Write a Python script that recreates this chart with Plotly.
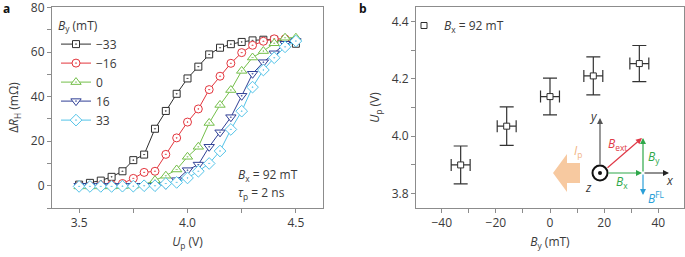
import plotly.graph_objects as go

# ---------------- data ----------------
up_a = [3.50, 3.55, 3.60, 3.65, 3.70, 3.75, 3.80, 3.85, 3.90, 3.95, 4.00,
        4.05, 4.10, 4.15, 4.20, 4.25, 4.30, 4.35, 4.40, 4.45, 4.50]
by_labels = ["\u221233", "\u221216", "0", "16", "33"]
dR_m33 = [0.5, 1.3, 2.3, 4.0, 6.5, 11.5, 14.0, 25.6, 33.6, 41.3, 48.2,
          53.5, 59.0, 62.0, 63.6, 64.6, 65.3, 65.6, 65.6, 65.0, 63.8]
dR_m16 = [0.0, 0.0, 0.2, 0.5, 1.0, 3.3, 6.0, 6.5, 14.1, 21.5, 28.6,
          34.5, 43.2, 49.2, 55.0, 59.8, 63.1, 64.9, 66.0, 66.0, 65.0]
dR_0 = [-0.3, -0.3, -0.3, -0.3, -0.2, 0.0, 0.5, 2.5, 4.5, 7.3, 13.0,
        17.5, 28.2, 36.3, 43.0, 51.6, 57.6, 60.5, 64.0, 66.5, 66.5]
dR_16 = [0.0, 0.0, 0.0, 0.0, 0.0, 0.0, 0.0, 0.0, 0.5, 2.5, 7.0,
         9.5, 17.5, 24.0, 30.8, 40.4, 50.3, 55.5, 59.5, 63.8, 65.0]
dR_33 = [-0.3, -0.3, -0.3, -0.3, -0.2, -0.2, 0.0, 0.0, 1.0, 1.5, 3.5,
         6.5, 10.0, 15.6, 25.3, 33.5, 44.3, 52.0, 57.5, 62.4, 65.0]

by_b = [-33, -16, 0, 16, 33]
up_b = [3.900, 4.035, 4.138, 4.210, 4.253]
up_b_err = [0.066, 0.067, 0.064, 0.066, 0.063]
by_b_err = [3.5, 3.5, 3.5, 3.5, 3.5]

# ---------------- style ----------------
W, H = 685, 257
FONT = "Open Sans"
TXT = "#3a3a3a"
AX = "#8c8c8c"
FS = 12
colors = ["#2e2e2e", "#e3343c", "#74bf4a", "#2f3f95", "#52c3e8"]
symbols = ["square-dot", "circle-dot", "triangle-up-dot", "triangle-down-dot", "diamond-dot"]
sizes = [7, 8, 9, 9, 9]
series = [dR_m33, dR_m16, dR_0, dR_16, dR_33]


def px(x):
    return x / W


def py(y):
    return 1 - y / H


fig = go.Figure()

for name, ys, c, s, sz in zip(by_labels, series, colors, symbols, sizes):
    fig.add_trace(go.Scatter(
        x=up_a, y=ys, name=name, mode="lines+markers",
        line=dict(color=c, width=1),
        marker=dict(symbol=s, size=sz, color="white", line=dict(color=c, width=1)),
        xaxis="x", yaxis="y", legend="legend",
    ))

fig.add_trace(go.Scatter(
    x=by_b, y=up_b, mode="markers", name="<i>B</i><sub>x</sub> = 92 mT",
    marker=dict(symbol="square", size=6, color="white", line=dict(color="#2e2e2e", width=1)),
    error_y=dict(type="data", array=up_b_err, color="#333", thickness=1.2, width=7),
    error_x=dict(type="data", array=by_b_err, color="#333", thickness=1.2, width=6),
    xaxis="x2", yaxis="y2", legend="legend2",
))

axis_common = dict(
    showgrid=False, zeroline=False, showline=True, linecolor=AX, linewidth=1,
    mirror=True, ticks="outside", ticklen=4, tickcolor=AX, tickwidth=1,
    automargin=False, ticklabeloverflow="allow",
    tickfont=dict(family=FONT, size=FS, color=TXT),
)
ydom = [py(208), py(7)]
tfont = dict(family=FONT, size=FS, color=TXT)

fig.update_layout(
    width=W, height=H, margin=dict(l=0, r=0, t=0, b=0),
    paper_bgcolor="white", plot_bgcolor="white",
    font=dict(family=FONT, size=FS, color=TXT),
    xaxis=dict(axis_common, domain=[px(52), px(323)], range=[3.375, 4.625],
               tick0=3.5, dtick=0.5, tickformat=".1f",
               minor=dict(dtick=0.25, ticks="outside", ticklen=4, tickcolor=AX),
               title=dict(text="<i>U</i><sub>p</sub> (V)", standoff=7, font=tfont)),
    yaxis=dict(axis_common, domain=ydom, range=[-10, 80.3], tick0=0, dtick=20,
               minor=dict(dtick=10, ticks="outside", ticklen=4, tickcolor=AX),
               title=dict(text="\u0394<i>R</i><sub>H</sub> (m\u03a9)", standoff=9, font=tfont)),
    xaxis2=dict(axis_common, domain=[px(416), px(684)], range=[-49.5, 49.5],
                tick0=0, dtick=20,
                minor=dict(dtick=10, ticks="outside", ticklen=4, tickcolor=AX),
                anchor="y2",
                title=dict(text="<i>B</i><sub>y</sub> (mT)", standoff=7, font=tfont)),
    yaxis2=dict(axis_common, domain=ydom, range=[3.75, 4.45], tick0=3.8, dtick=0.2,
                tickformat=".1f", anchor="x2",
                minor=dict(dtick=0.1, ticks="outside", ticklen=4, tickcolor=AX),
                title=dict(text="<i>U</i><sub>p</sub> (V)", standoff=9, font=tfont)),
    legend=dict(x=px(56), y=py(14), xanchor="left", yanchor="top",
                bgcolor="rgba(0,0,0,0)", borderwidth=0,
                font=tfont,
                title=dict(text="<i>B</i><sub>y</sub> (mT)", font=tfont)),
    legend2=dict(x=px(404), y=py(11), xanchor="left", yanchor="top",
                 bgcolor="rgba(0,0,0,0)", borderwidth=0,
                 font=tfont),
)

ann = []
# panel labels
ann.append(dict(text="<b>a</b>", x=px(1), y=py(9), xref="paper", yref="paper",
                xanchor="left", yanchor="middle", showarrow=False,
                font=dict(family=FONT, size=12, color="#111")))
ann.append(dict(text="<b>b</b>", x=px(357), y=py(9), xref="paper", yref="paper",
                xanchor="left", yanchor="middle", showarrow=False,
                font=dict(family=FONT, size=12, color="#111")))
# panel a note
ann.append(dict(text="<i>B</i><sub>x</sub> = 92 mT", x=px(236), y=py(175), xref="paper", yref="paper",
                xanchor="left", yanchor="middle", showarrow=False, font=tfont))
ann.append(dict(text="<i>\u03c4</i><sub>p</sub> = 2 ns", x=px(236), y=py(193), xref="paper", yref="paper",
                xanchor="left", yanchor="middle", showarrow=False, font=tfont))


def arrow(x0, y0, x1, y1, color, width=1.2, head=2, size=1.0):
    return dict(x=px(x1), y=py(y1), xref="paper", yref="paper",
                ax=x0 - x1, ay=y0 - y1, axref="pixel", ayref="pixel",
                showarrow=True, arrowhead=head, arrowsize=size, arrowwidth=width,
                arrowcolor=color, text="")


# inset diagram (panel b)
ann.append(arrow(600, 166, 600, 118, "#555"))
ann.append(arrow(643, 173, 669, 173, "#222"))
ann.append(arrow(607, 173, 642, 173, "#2ea84a"))
ann.append(arrow(606, 169, 642, 138, "#e03a48"))
ann.append(arrow(643, 173, 643, 138, "#2ea84a"))
ann.append(arrow(643, 173, 643, 195, "#2b9fd8"))


def label(text, x, y, color, size=FS):
    return dict(text=text, x=px(x), y=py(y), xref="paper", yref="paper",
                xanchor="center", yanchor="middle", showarrow=False,
                font=dict(family=FONT, size=size, color=color))


ann.append(label("<i>y</i>", 593, 117, "#333"))
ann.append(label("<i>x</i>", 670, 180, "#333"))
ann.append(label("<i>z</i>", 588, 187, "#333"))
ann.append(label("<i>B</i><sub>ext</sub>", 617, 144, "#e03a48"))
ann.append(label("<i>B</i><sub>y</sub>", 654, 157, "#2ea84a"))
ann.append(label("<i>B</i><sub>x</sub>", 622, 182, "#2ea84a"))
ann.append(label("<i>B</i><sup>FL</sup>", 656, 198, "#2b9fd8"))
ann.append(label("<i>I</i><sub>p</sub>", 578, 151, "#f2b37f"))

fig.update_layout(annotations=ann)

shapes = []
# origin (out-of-plane z) symbol
shapes.append(dict(type="circle", xref="paper", yref="paper",
                   x0=px(592.5), x1=px(607.5), y0=py(180.5), y1=py(165.5),
                   line=dict(color="#111", width=2), fillcolor="white"))
shapes.append(dict(type="circle", xref="paper", yref="paper",
                   x0=px(598), x1=px(602), y0=py(175), y1=py(171),
                   line=dict(color="#111", width=0), fillcolor="#111"))
# big orange current arrow
pts = [(580, 163), (567, 163), (567, 154), (553, 173), (567, 192), (567, 183), (580, 183)]
path = "M " + " L ".join(f"{px(a):.5f},{py(b):.5f}" for a, b in pts) + " Z"
shapes.append(dict(type="path", xref="paper", yref="paper", path=path,
                   fillcolor="rgba(244,178,120,0.7)", line=dict(width=0)))
fig.update_layout(shapes=shapes)

fig.write_html("out.html", config={"displayModeBar": False},
               post_script="document.body.style.margin='0';document.body.style.padding='0';")
